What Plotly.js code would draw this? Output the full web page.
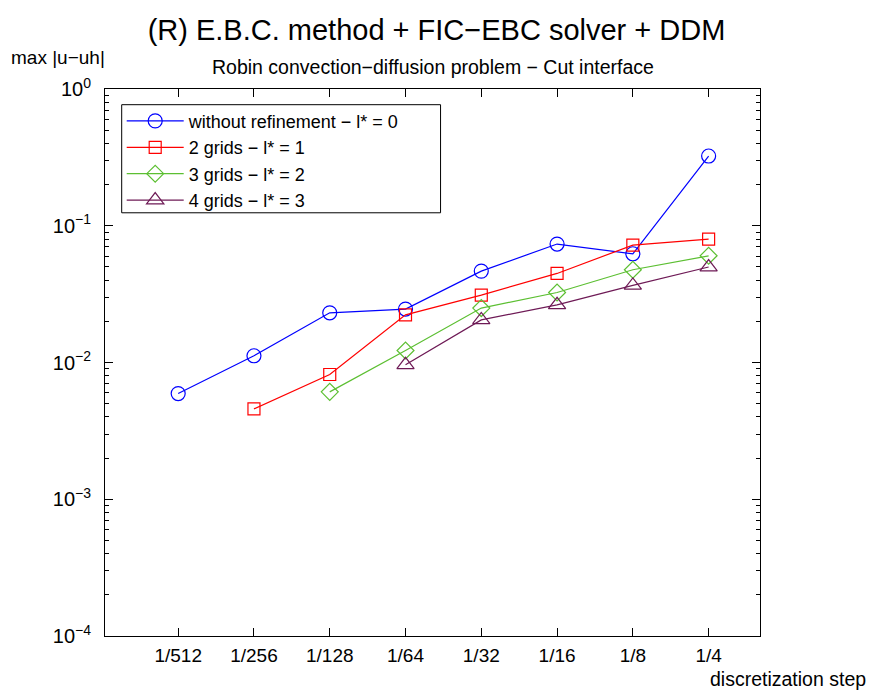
<!DOCTYPE html>
<html>
<head>
<meta charset="utf-8">
<script src="https://cdn.plot.ly/plotly-3.0.1.min.js"></script>
<style>html,body{margin:0;padding:0;background:#fff;}#chart{width:873px;height:697px;}</style>
</head>
<body>
<div id="chart"></div>
<script>
const stepLabels = ['1/512','1/256','1/128','1/64','1/32','1/16','1/8','1/4'];
const stepValues = [1/512, 1/256, 1/128, 1/64, 1/32, 1/16, 1/8, 1/4];

const seriesNames = [
  'without refinement − l* = 0',
  '2 grids − l* = 1',
  '3 grids − l* = 2',
  '4 grids − l* = 3'
];
// errors, aligned with stepValues (null = no point)
const err0 = [0.00593, 0.0112, 0.0231, 0.0246, 0.0466, 0.0735, 0.0624, 0.3236];
const err1 = [null, 0.00458, 0.00817, 0.0223, 0.0311, 0.0448, 0.0722, 0.0799];
const err2 = [null, null, 0.00610, 0.01224, 0.0250, 0.0325, 0.0477, 0.0603];
const err3 = [null, null, null, 0.00962, 0.0205, 0.0264, 0.0366, 0.0499];

const yTickVals = [1e-4, 1e-3, 1e-2, 1e-1, 1];
const yTickText = ['10<sup>−4</sup>','10<sup>−3</sup>','10<sup>−2</sup>','10<sup>−1</sup>','10<sup>0</sup>'];

const colors = ['#0000ff', '#ff0000', '#5cbf32', '#6e1a56'];
const symbols = ['circle-open', 'square-open', 'diamond-open', 'triangle-up-open'];
const sizes = [14, 12, 13, 15];
const allErr = [err0, err1, err2, err3];

const font = 'Liberation Sans, Arial, Helvetica, sans-serif';

const traces = allErr.map((e, i) => {
  const xs = [], ys = [];
  e.forEach((v, j) => { if (v !== null) { xs.push(stepValues[j]); ys.push(v); } });
  return {
    x: xs, y: ys, name: seriesNames[i], type: 'scatter', mode: 'lines+markers',
    line: {color: colors[i], width: 1.2},
    marker: {symbol: symbols[i], size: sizes[i], color: colors[i], line: {width: 1.2, color: colors[i]}}
  };
});

const layout = {
  width: 873, height: 697,
  margin: {l: 105, r: 113, t: 89, b: 61},
  paper_bgcolor: '#fff', plot_bgcolor: '#fff',
  font: {family: font, size: 18, color: '#000'},
  showlegend: true,
  title: {text: '(R) E.B.C. method + FIC−EBC solver + DDM', font: {family: font, size: 29, color: '#000'},
          x: 0.5, xanchor: 'center', y: 0.957, yanchor: 'middle'},
  xaxis: {
    type: 'log', range: [Math.log10(0.001), Math.log10(0.4)],
    tickvals: stepValues, ticktext: stepLabels,
    ticks: 'inside', ticklen: 8, tickcolor: '#000', tickwidth: 1,
    showline: true, linecolor: '#000', linewidth: 1, mirror: 'ticks',
    showgrid: false, zeroline: false, tickfont: {size: 19}, ticklabelstandoff: 2
  },
  yaxis: {
    type: 'log', range: [-4, 0],
    tickvals: yTickVals, ticktext: yTickText,
    ticks: 'inside', ticklen: 8, tickcolor: '#000', tickwidth: 1,
    minor: {ticks: 'inside', ticklen: 4, dtick: 'D1', tickcolor: '#000', showgrid: false},
    showline: true, linecolor: '#000', linewidth: 1, mirror: 'ticks',
    showgrid: false, zeroline: false, tickfont: {size: 20}, ticklabelstandoff: 9
  },
  legend: {
    x: 0.0255, y: 0.975, xanchor: 'left', yanchor: 'top',
    bgcolor: 'rgba(0,0,0,0)', borderwidth: 0,
    font: {family: font, size: 18}, itemwidth: 57, tracegroupgap: 0
  },
  shapes: [
    {type: 'rect', xref: 'paper', yref: 'paper', x0: 0.0255, x1: 0.5123, y0: 0.7737, y1: 0.9713,
     line: {color: '#000', width: 1}, fillcolor: '#fff', layer: 'below'}
  ],
  annotations: [
    {text: 'Robin convection−diffusion problem − Cut interface', xref: 'paper', yref: 'paper',
     x: 0.5, y: 1, xanchor: 'center', yanchor: 'bottom', yshift: 9, showarrow: false, font: {size: 19.5}},
    {text: 'max |u−uh|', xref: 'paper', yref: 'paper', x: -0.147, y: 1, xanchor: 'left', yanchor: 'bottom',
     yshift: 19, showarrow: false, font: {size: 19}},
    {text: 'discretization step', xref: 'paper', yref: 'paper', x: 1.1645, y: 0, xanchor: 'right', yanchor: 'top',
     yshift: -30, showarrow: false, font: {size: 19.5}}
  ]
};

Plotly.newPlot('chart', traces, layout, {displayModeBar: false, staticPlot: true});
</script>
</body>
</html>
